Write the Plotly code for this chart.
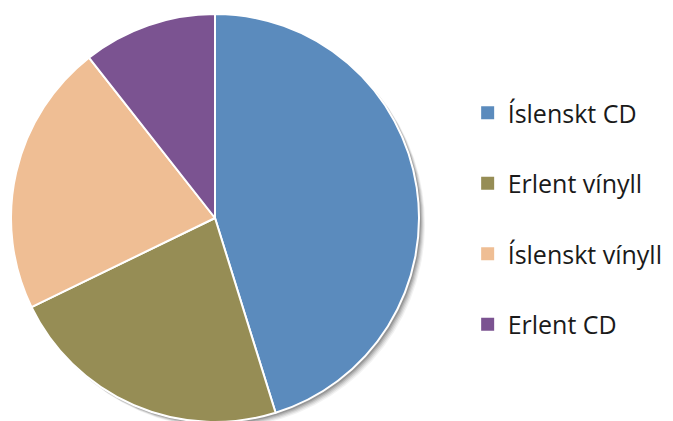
import plotly.graph_objects as go

labels = ["Íslenskt CD", "Erlent vínyll", "Íslenskt vínyll", "Erlent CD"]
values = [45.2, 22.6, 21.6, 10.6]
colors = ["#5B8BBD", "#968D55", "#EFBE94", "#7B5391"]

W, H = 673, 421

def dom(x0, x1, y0, y1):
    y1 = min(y1, H)
    return dict(x=[x0 / W, x1 / W], y=[1 - y1 / H, 1 - y0 / H])

fig = go.Figure()

# soft shadow layers
for off, alpha in [(6, 0.05), (5, 0.07), (4, 0.09), (3, 0.12), (2, 0.15)]:
    fig.add_trace(go.Pie(
        values=values, labels=labels, sort=False, direction="clockwise",
        marker=dict(colors=[f"rgba(0,0,0,{alpha})"] * len(values), line=dict(width=0)),
        textinfo="none", hoverinfo="skip", showlegend=False,
        domain=dom(3 + off, 411 + off, 6 + off, 414 + off),
    ))

fig.add_trace(go.Pie(
    values=values, labels=labels, sort=False, direction="clockwise",
    marker=dict(colors=colors, line=dict(color="white", width=2)),
    textinfo="none", showlegend=False,
    domain=dom(3, 411, 6, 414),
))

for lab, col in zip(labels, colors):
    fig.add_trace(go.Scatter(
        x=[None], y=[None], mode="markers", name=lab, legendgroup=lab,
        marker=dict(symbol="square", size=13, color=col),
    ))

fig.update_layout(
    width=W, height=H,
    margin=dict(l=0, r=0, t=0, b=0),
    paper_bgcolor="white", plot_bgcolor="white",
    xaxis=dict(visible=False), yaxis=dict(visible=False),
    font=dict(family="Open Sans, sans-serif", size=25, color="#1a1a1a"),
    legend=dict(x=0.683, y=0.5, xanchor="left", yanchor="middle",
                tracegroupgap=35, itemwidth=30, bgcolor="rgba(0,0,0,0)"),
)

fig.write_html("out.html")
